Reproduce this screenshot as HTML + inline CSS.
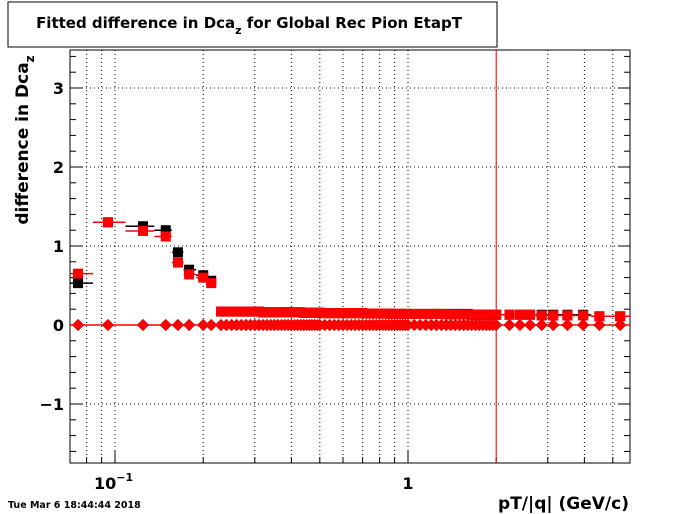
<!DOCTYPE html>
<html><head><meta charset="utf-8">
<style>
body{margin:0;background:#fff;}
svg{display:block;font-family:"DejaVu Sans","Liberation Sans",sans-serif;}
</style></head>
<body>
<svg id="chart" width="700" height="514">
<rect x="0" y="0" width="700" height="514" fill="#fff"/>
<rect x="8" y="2" width="489" height="45" fill="#fff" stroke="#000" stroke-width="1"/>
<text x="249" y="28" text-anchor="middle" font-size="15" font-weight="bold">Fitted difference in Dca<tspan dy="6" font-size="11">z</tspan><tspan dy="-6"> for Global Rec Pion EtapT</tspan></text>
<g id="grid"></g>
<g id="axes"></g>
<g id="marks"></g>
<text transform="translate(28,140) rotate(-90)" text-anchor="middle" font-size="17" font-weight="bold">difference in Dca<tspan dy="6" font-size="12">z</tspan></text>
<text x="629" y="509" text-anchor="end" font-size="17" font-weight="bold">pT/|q| (GeV/c)</text>
<text x="8" y="508" font-size="9.5" font-weight="bold">Tue Mar  6 18:44:44 2018</text>
</svg>
<script>
// ---- data ----
const lowPt   = [0.0748,0.0946,0.1246,0.149,0.164,0.179,0.2,0.213];
const lowBlack= [0.53,1.30,1.25,1.20,0.92,0.70,0.63,0.56];
const lowRed  = [0.65,1.30,1.19,1.12,0.79,0.64,0.60,0.53];
const densePt = [0.23,0.24,0.25,0.26,0.27,0.28,0.29,0.30,0.31,0.32,0.33,0.34,0.35,0.36,0.37,0.38,0.39,0.40,0.41,0.42,0.43,0.44,0.45,0.46,0.47,0.48,0.49,0.50,0.52,0.54,0.56,0.58,0.60,0.62,0.64,0.66,0.68,0.70,0.72,0.74,0.76,0.78,0.80,0.82,0.84,0.86,0.88,0.90,0.92,0.94,0.96,0.98,1.0,1.05,1.1,1.15,1.2,1.25,1.3,1.35,1.4,1.45,1.5,1.55,1.6,1.65,1.7,1.75,1.8,1.85,1.9,1.95,2.0,2.22,2.41,2.61,2.86,3.13,3.5,3.96,4.5,5.3];
const denseRed= [0.17,0.17,0.17,0.17,0.17,0.17,0.17,0.17,0.17,0.16,0.16,0.16,0.16,0.16,0.16,0.16,0.16,0.16,0.16,0.16,0.16,0.155,0.155,0.155,0.155,0.155,0.155,0.155,0.15,0.15,0.15,0.15,0.15,0.15,0.15,0.15,0.15,0.15,0.145,0.145,0.145,0.145,0.145,0.145,0.145,0.145,0.14,0.14,0.14,0.14,0.14,0.14,0.14,0.14,0.14,0.14,0.14,0.14,0.14,0.135,0.135,0.135,0.135,0.135,0.135,0.13,0.13,0.13,0.13,0.13,0.13,0.13,0.13,0.13,0.13,0.13,0.12,0.12,0.12,0.12,0.11,0.11];
const denseBlack=[0.17,0.17,0.17,0.17,0.17,0.17,0.17,0.17,0.17,0.16,0.16,0.16,0.16,0.16,0.16,0.16,0.16,0.16,0.16,0.16,0.16,0.155,0.155,0.155,0.155,0.155,0.155,0.155,0.15,0.15,0.15,0.15,0.15,0.15,0.15,0.15,0.15,0.15,0.145,0.145,0.145,0.145,0.145,0.145,0.145,0.145,0.14,0.14,0.14,0.14,0.14,0.14,0.14,0.14,0.14,0.14,0.14,0.14,0.14,0.14,0.14,0.14,0.14,0.14,0.14,0.13,0.13,0.13,0.13,0.13,0.13,0.13,0.13,0.13,0.13,0.13,0.13,0.13,0.13,0.13,0.11,0.11];
const yTicks = [-1,0,1,2,3];
const xMajor = [0.1,1];
const xMajorLabels = ["10","1"];
const xMinor = [0.08,0.09,0.2,0.3,0.4,0.5,0.6,0.7,0.8,0.9,2,3,4,5];
// ---- axes ----
const L=70,R=630,T=50,B=463;
const X=v=>115+293*Math.log10(v/0.1);
const Y=v=>325-79*v;
const NS="http://www.w3.org/2000/svg";
function mk(tag,attrs,parent){const e=document.createElementNS(NS,tag);for(const k in attrs)e.setAttribute(k,attrs[k]);parent.appendChild(e);return e;}
const grid=document.getElementById('grid'),axes=document.getElementById('axes'),marks=document.getElementById('marks');
xMajor.concat(xMinor).forEach(v=>{const g=mk('line',{x1:X(v),x2:X(v),y1:T,y2:B,stroke:'#000','stroke-width':1,'stroke-dasharray':'1,3'},grid);
});
yTicks.forEach(v=>{const g=mk('line',{x1:L,x2:R,y1:Y(v),y2:Y(v),stroke:'#000','stroke-width':1,'stroke-dasharray':'1,3'},grid);
});
const fr=mk('rect',{x:L,y:T,width:R-L,height:B-T,fill:'none',stroke:'#000','stroke-width':1},axes);

for(let i=-8;i<=17;i++){const v=i*0.2;if(Y(v)<T||Y(v)>B)continue;const major=i%5===0;const len=major?12:6;
 const t=mk('line',{x1:L,x2:L+len,y1:Y(v),y2:Y(v),stroke:'#000'},axes);
 const t2=mk('line',{x1:R,x2:R-len,y1:Y(v),y2:Y(v),stroke:'#000'},axes);}
yTicks.forEach(v=>{const tx=mk('text',{x:64,y:Y(v)+6,'text-anchor':'end','font-size':16,'font-weight':'bold'},axes);tx.textContent=v<0?'\u2212'+(-v):String(v);
 });
xMajor.forEach(v=>{const t=mk('line',{x1:X(v),x2:X(v),y1:B,y2:B-12,stroke:'#000'},axes);});
xMinor.forEach(v=>{const t=mk('line',{x1:X(v),x2:X(v),y1:B,y2:B-6,stroke:'#000'},axes);});
const l1=mk('text',{x:X(0.1)-21,y:489,'font-size':16,'font-weight':'bold'},axes);l1.innerHTML='10<tspan dy="-8" font-size="11">\u22121</tspan>';

const l2=mk('text',{x:X(1),y:489,'text-anchor':'middle','font-size':16,'font-weight':'bold'},axes);l2.textContent=xMajorLabels[1];

// pT=2 line
const vl=mk('line',{x1:X(2),x2:X(2),y1:T,y2:B,stroke:'#f00','stroke-width':1},marks);
// ---- series ----
const allPt=lowPt.concat(densePt), allBlack=lowBlack.concat(denseBlack), allRed=lowRed.concat(denseRed);
function edges(i){const lo=i>0?Math.sqrt(allPt[i]*allPt[i-1]):allPt[0]*0.94;const hi=i<allPt.length-1?Math.sqrt(allPt[i]*allPt[i+1]):allPt[i]*1.08;return [Math.max(X(lo),L),Math.min(X(hi),R)];}
const zl=mk('line',{x1:L,x2:R,y1:Y(0),y2:Y(0),stroke:'#f00','stroke-width':1.5},marks);
function squares(vals,color,name){allPt.forEach((p,i)=>{const [a,b]=edges(i);
 const h=mk('line',{x1:a,x2:b,y1:Y(vals[i]),y2:Y(vals[i]),stroke:color,'stroke-width':1.5},marks);
 const r=mk('rect',{x:X(p)-5,y:Y(vals[i])-5,width:10,height:10,fill:color},marks);});}
squares(allBlack,'#000','black-square');
squares(allRed,'#f00','red-square');
function diamonds(color,name){allPt.forEach(p=>{const x=X(p),y=Y(0);
 const d=mk('polygon',{points:`${x},${y-6} ${x+6},${y} ${x},${y+6} ${x-6},${y}`,fill:color},marks);});}
diamonds('#000','black-diamond');
diamonds('#f00','red-diamond');
</script>
</body></html>
